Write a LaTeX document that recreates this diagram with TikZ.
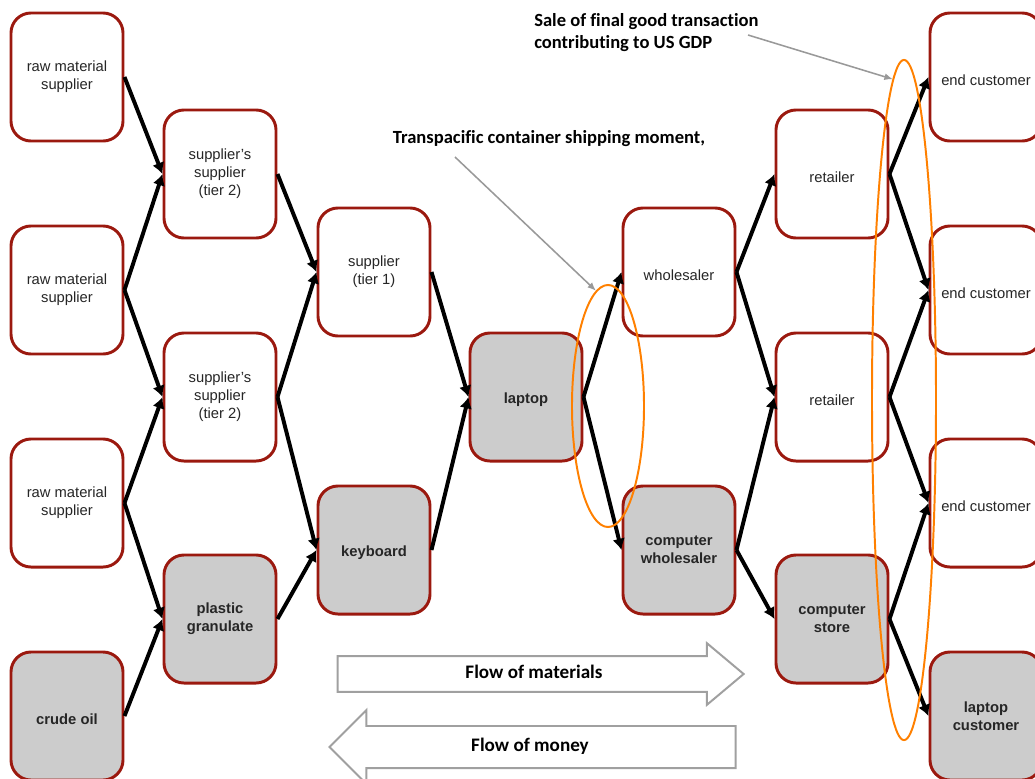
\documentclass[tikz,border=0pt]{standalone}
\usepackage{fontspec}
\setmainfont{Liberation Sans}
\newfontfamily\notefont[Ligatures=NoCommon]{Carlito}
\usepackage{tikz}
\usetikzlibrary{arrows.meta, positioning, shapes.geometric, shapes.arrows, calc}

\definecolor{boxred}{RGB}{155,25,15}
\definecolor{boxgray}{RGB}{204,204,204}
\definecolor{ovalorange}{RGB}{255,128,0}
\definecolor{flowgray}{RGB}{160,160,160}

\begin{document}
\begin{tikzpicture}[
  x=0.025cm, y=-0.025cm,
  box/.style={draw=boxred, line width=2.1pt, rounded corners=0.5cm, fill=white, minimum width=2.8cm, minimum height=3.2cm, align=center, font=\fontsize{10.5}{12.8}\selectfont, text=black!85, execute at begin node={\rule{0pt}{11.6pt}}},
  part/.style={box, fill=boxgray, font=\fontsize{10.5}{12.8}\selectfont\bfseries},
  arrow/.style={-{Latex[length=8pt, width=9pt]}, line width=2.8pt},
  oval/.style={draw=ovalorange, line width=1.4pt, ellipse, inner sep=0pt},
  note/.style={-{Latex[length=6pt, width=5pt]}, draw=gray!80, line width=1.1pt},
  flow/.style={single arrow, draw=flowgray, line width=1.4pt, fill=white, font=\notefont\bfseries\fontsize{13.6}{15}\selectfont, minimum height=10.15cm, text height=9.5pt, text depth=3pt}
]
  \useasboundingbox (0,0) rectangle (1035,778);

  % raw materials
  \node[box] (raw1) at (67,77) {raw material\\supplier};
  \node[box] (raw2) at (67,290) {raw material\\supplier};
  \node[box] (raw3) at (67,503) {raw material\\supplier};
  \node[part] (crude) at (67,716) {crude oil};

  % tier 2
  \node[box] (subsup1) at (220,174) {supplier's\\supplier\\(tier 2)};
  \node[box] (subsup2) at (220,397) {supplier's\\supplier\\(tier 2)};
  \node[part] (plastic) at (220,619) {plastic\\granulate};

  % tier 1
  \node[box] (supplier) at (374,272) {supplier\\(tier 1)};
  \node[part] (keyboard) at (374,550) {keyboard};

  \node[part] (laptop) at (526,397) {laptop};

  % distribution
  \node[box] (wholesaler) at (679,272) {wholesaler};
  \node[part] (compwhole) at (679,550) {computer\\wholesaler};
  \node[box] (retail1) at (832,174) {retailer};
  \node[box] (retail2) at (832,397) {retailer};
  \node[part] (store) at (832,619) {computer\\store};

  \node[box] (endcust1) at (986,77) {end customer};
  \node[box] (endcust2) at (986,290) {end customer};
  \node[box] (endcust3) at (986,503) {end customer};
  \node[part] (lapcust) at (986,716) {laptop\\customer};

  \draw[arrow] (raw1.east) -- (subsup1.west);
  \draw[arrow] (raw2.east) -- (subsup1.west);
  \draw[arrow] (raw2.east) -- (subsup2.west);
  \draw[arrow] (raw3.east) -- (subsup2.west);
  \draw[arrow] (raw3.east) -- (plastic.west);
  \draw[arrow] (crude.east) -- (plastic.west);
  \draw[arrow] (subsup1.east) -- (supplier.west);
  \draw[arrow] (subsup2.east) -- (supplier.west);
  \draw[arrow] (subsup2.east) -- (keyboard.west);
  \draw[arrow] (plastic.east) -- (keyboard.west);
  \draw[arrow] (supplier.east) -- (laptop.west);
  \draw[arrow] (keyboard.east) -- (laptop.west);
  \draw[arrow] (laptop.east) -- (wholesaler.west);
  \draw[arrow] (laptop.east) -- (compwhole.west);
  \draw[arrow] (wholesaler.east) -- (retail1.west);
  \draw[arrow] (wholesaler.east) -- (retail2.west);
  \draw[arrow] (compwhole.east) -- (retail2.west);
  \draw[arrow] (compwhole.east) -- (store.west);
  \draw[arrow] (retail1.east) -- (endcust1.west);
  \draw[arrow] (retail1.east) -- (endcust2.west);
  \draw[arrow] (retail2.east) -- (endcust2.west);
  \draw[arrow] (retail2.east) -- (endcust3.west);
  \draw[arrow] (store.east) -- (endcust3.west);
  \draw[arrow] (store.east) -- (lapcust.west);

  % flows
  \node[flow, minimum width=1.5cm, single arrow head extend=0.325cm, single arrow tip angle=80, inner ysep=5.7pt] (matflow) at (530,674) {\hspace*{0.2cm}Flow of materials};
  \node[flow, shape border rotate=180, minimum width=1.8cm, single arrow head extend=0.4cm, inner ysep=8pt] (moneyflow) at (543,747) {Flow of money\hspace*{0.65cm}};

  % annotations
  \node[font=\notefont\bfseries\fontsize{13.2}{15.6}\selectfont, align=left, anchor=north west, inner sep=0pt] (gdplabel) at (534,13) {Sale of final good transaction\\contributing to US GDP};
  \node[font=\notefont\bfseries\fontsize{13.2}{15}\selectfont, inner sep=0pt] (shiplabel) at (549,139) {Transpacific container shipping moment,};

  \node[oval, minimum width=1.8cm, minimum height=6.05cm] (shipoval) at (608,406) {};
  \node[oval, minimum width=1.6cm, minimum height=17cm] (gdpoval) at (904,400) {};

  \coordinate (shipfrom) at (455,157);
  \coordinate (gdpfrom) at (748,35);
  \draw[note] (shipfrom) -- (shipoval.96);
  \draw[note] (gdpfrom) -- (gdpoval.92);
\end{tikzpicture}
\end{document}
